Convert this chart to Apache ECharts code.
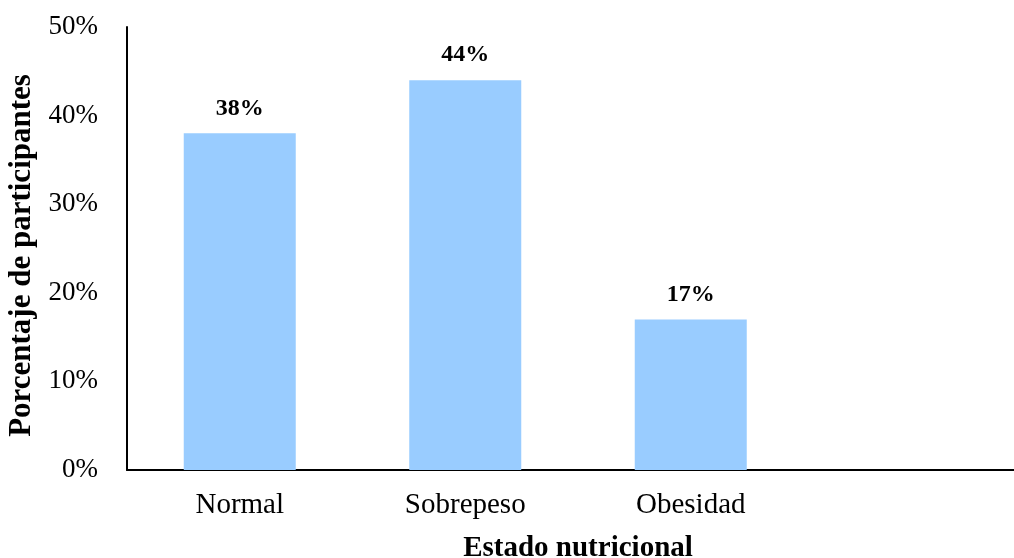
<!DOCTYPE html>
<html>
<head>
<meta charset="utf-8">
<script src="https://cdn.jsdelivr.net/npm/echarts@6/dist/echarts.min.js"></script>
<style>
  html, body { margin: 0; padding: 0; background: #fff; }
  #chart { width: 1014px; height: 558px; }
</style>
</head>
<body>
<div id="chart"></div>
<script>
// Nutritional status of participants (percent)
const categories = ['Normal', 'Sobrepeso', 'Obesidad', ''];
const percentages = [38, 44, 17, null];
const yTicks = [0, 10, 20, 30, 40, 50];

const serif = '"Liberation Serif", "Times New Roman", serif';

const chart = echarts.init(document.getElementById('chart'), null, { renderer: 'canvas' });
chart.setOption({
  animation: false,
  grid: { left: 127, width: 902, top: 27, bottom: 88, containLabel: false, outerBoundsMode: 'none' },
  xAxis: {
    type: 'category',
    data: categories,
    name: 'Estado nutricional',
    nameLocation: 'middle',
    nameGap: 64,
    nameTextStyle: { fontFamily: serif, fontSize: 29, fontWeight: 'bold', color: '#000' },
    axisLine: { lineStyle: { color: '#000', width: 2 } },
    axisTick: { show: false },
    axisLabel: { fontFamily: serif, fontSize: 29, color: '#000', margin: 21 }
  },
  yAxis: {
    type: 'value',
    min: yTicks[0],
    max: yTicks[yTicks.length - 1],
    interval: 10,
    name: 'Porcentaje de participantes',
    nameLocation: 'middle',
    nameGap: 85,
    nameTextStyle: { fontFamily: serif, fontSize: 31, fontWeight: 'bold', color: '#000', padding: [0, 14, 0, 0] },
    axisLine: { show: true, lineStyle: { color: '#000', width: 2 } },
    axisTick: { show: false },
    splitLine: { show: false },
    axisLabel: { fontFamily: serif, fontSize: 27, color: '#000', margin: 29, formatter: '{value}%' }
  },
  series: [{
    type: 'bar',
    data: percentages,
    barWidth: 112,
    itemStyle: { color: '#99CCFF' },
    label: {
      show: true,
      position: 'top',
      distance: 13,
      fontFamily: serif,
      fontSize: 24,
      fontWeight: 'bold',
      color: '#000',
      formatter: '{c}%'
    }
  }]
});
</script>
</body>
</html>
